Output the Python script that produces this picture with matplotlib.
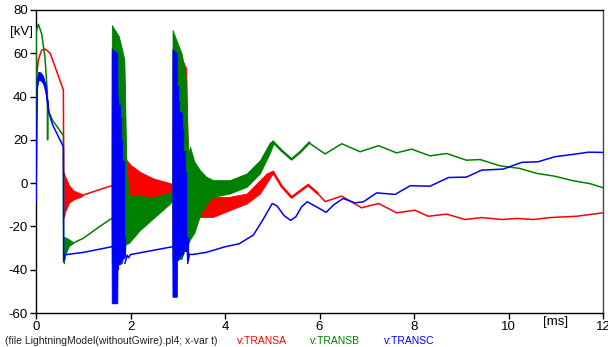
import matplotlib
matplotlib.use("Agg")
import matplotlib.pyplot as plt
import numpy as np

plt.rcParams['font.family'] = ['Liberation Sans', 'DejaVu Sans']

# ---------------- data (time in ms, voltage in kV) ----------------
# TRANSA (red)
a_line1_t = [0, 0.002, 0.02, 0.05, 0.12, 0.19, 0.3, 0.58, 0.585]
a_line1_v = [0, 45, 51, 57, 61.5, 62, 60, 43, 3]
a_band1_t = [0.585, 0.59, 0.62, 0.7, 0.8, 0.95, 1.0]
a_band1_lo = [3, -16, -13, -9, -7.5, -6.3, -5.5]
a_band1_hi = [3, 5, 3, -1, -3.5, -4.8, -5.5]
a_line2_t = [1.0, 1.3, 1.6]
a_line2_v = [-5.5, -3.3, -1.2]
a_band2_t = [1.600, 1.605, 1.75, 1.86, 1.90, 1.92, 2.0, 2.2, 2.48, 2.84, 2.885]
a_band2_lo = [-1.2, -30, -30, -30, -8, -7, -7, -7, -6.3, -5.5, -5]
a_band2_hi = [-1.2, 63, 60, 54, 12, 10.6, 8.5, 5.2, 2.2, 0, -0.5]
a_band3_t = [2.885, 2.89, 3.10, 3.18, 3.20, 3.22, 3.3, 3.47, 3.75, 4.1, 4.46, 4.74, 4.88, 4.98, 5.02]
a_band3_lo = [-5, -30, -30, -30, -36, -22, -18, -15.6, -15.6, -12.5, -9.4, -4.8, 0, 3.5, 4.5]
a_band3_hi = [-0.5, 60.7, 57, 53, 30, 12, 6, -3.2, -6.3, -6.3, -4.8, 1.4, 4.5, 5.5, 5.5]
a_line3_t = [5.02, 5.2, 5.41, 5.6, 5.76, 5.95, 6.12, 6.47, 6.89, 7.25, 7.63, 8.02, 8.3,
             8.69, 9.08, 9.43, 9.86, 10.17, 10.53, 10.88, 11.44, 12]
a_line3_v = [5, -1.5, -6.6, -3.5, -0.9, -4.5, -8.5, -6, -11.4, -9.4, -13.7, -12.5, -15.3,
             -14.3, -16.8, -15.9, -16.8, -16.3, -16.8, -15.9, -15.3, -13.7]

# TRANSB (green)
b_line1_t = [0, 0.004, 0.05, 0.12, 0.19, 0.24, 0.245, 0.25, 0.27, 0.35, 0.45, 0.58, 0.585]
b_line1_v = [0, 70, 73.4, 69, 58, 42, 20, 38, 33, 29, 26, 22, -36.5]
b_band1_t = [0.585, 0.59, 0.62, 0.7, 0.8]
b_band1_lo = [-36.5, -37, -33, -29, -27.5]
b_band1_hi = [-36.5, -25, -25, -26, -27.5]
b_line2_t = [0.8, 1.0, 1.35, 1.6]
b_line2_v = [-27.5, -25.5, -20, -16.3]
b_band2_t = [1.600, 1.605, 1.75, 1.82, 1.87, 1.91, 1.96, 2.2, 2.48, 2.84, 2.885]
b_band2_lo = [-16.3, -37, -37, -37, -30, -28, -27.8, -21.7, -16.3, -9.4, -7]
b_band2_hi = [-16.3, 73, 68, 62, 57, 10, -5.5, -6, -6.5, -4.5, -3]
b_band3_t = [2.885, 2.89, 3.08, 3.16, 3.22, 3.26, 3.35, 3.47, 3.6, 3.75, 4.1, 4.46, 4.74, 4.95, 5.02]
b_band3_lo = [-7, -35, -35, -30, -28, -26, -23, -15, -10, -6.3, -4.8, -1.7, 4.5, 14, 18]
b_band3_hi = [-3, 70.7, 60, 50.7, 13.8, 16.8, 10, 6, 3, 1.4, 1.4, 4.5, 10.6, 18.8, 19.5]
b_line3_t = [5.02, 5.2, 5.41, 5.6, 5.78, 5.95, 6.12, 6.47, 6.86, 7.25, 7.63, 7.95, 8.34,
             8.69, 9.11, 9.4, 9.82, 10.24, 10.6, 10.98, 11.37, 11.72, 12]
b_line3_v = [19, 15, 11, 14.5, 18.6, 16, 13.5, 18.2, 14.5, 17.3, 14, 15.7, 12.6,
             13.7, 10.6, 10.9, 8, 6.8, 4.5, 3.2, 1.1, -0.2, -2.1]

# TRANSC (blue)
c_line1_t = [0, 0.001, 0.03, 0.08, 0.15, 0.2, 0.27, 0.35, 0.58, 0.585, 0.6, 0.65, 1.0, 1.6]
c_line1_v = [0, -8.6, 48, 51, 49, 45, 33, 27, 16.8, -35.6, -33, -33, -32, -29.4]
c_band1_t = [0.02, 0.05, 0.1, 0.15, 0.2, 0.25]
c_band1_lo = [44, 47.5, 47.5, 46, 42, 34]
c_band1_hi = [48, 51.5, 51, 49.5, 45.5, 37]
c_band2_t = [1.600, 1.603, 1.72, 1.725]
c_band2_lo = [-29.4, -55.5, -55.5, -40]
c_band2_hi = [-29.4, 62, 60, 40]
c_strk2_t = [1.74, 1.77, 1.80, 1.83, 1.86, 1.88]
c_strk2_lo = [-40, -38, -37, -36, -35, -34]
c_strk2_hi = [40, 36, 30, 20, 10, -25]
c_line2_t = [1.88, 1.93, 1.96, 2.0, 2.885]
c_line2_v = [-37, -33.3, -34.5, -33, -29.4]
c_band3_t = [2.885, 2.888, 2.98, 2.985]
c_band3_lo = [-29.4, -52.5, -52.5, -36]
c_band3_hi = [-29.4, 62, 60, 45]
c_strk3_t = [3.0, 3.03, 3.06, 3.09, 3.12, 3.15, 3.18, 3.21]
c_strk3_lo = [-36, -35, -34, -33, -33, -32, -32, -36]
c_strk3_hi = [45, 38, 33, 32, 25, 15, 5, -25]
c_line3_t = [3.21, 3.25, 3.3, 3.6, 4.0, 4.3, 4.6, 4.8, 5.0, 5.1, 5.25, 5.39, 5.5, 5.62,
             5.74, 5.9, 6.14, 6.3, 6.5, 6.75, 6.93, 7.21, 7.6, 7.92, 8.34, 8.73, 9.11,
             9.43, 9.89, 10.28, 10.63, 10.98, 11.37, 11.69, 12]
c_line3_v = [-37, -32.8, -33, -32, -29.4, -28, -24, -17, -9.4, -10.5, -15, -17.2, -15.5, -11,
             -8.6, -10.5, -13.5, -10, -7.1, -9.1, -8.6, -4.5, -5.2, -1.2, -1.4, 2.6, 2.8,
             6, 6.5, 9.6, 9.9, 12.2, 13.3, 14.3, 14.2]

x_ticks = [0, 2, 4, 6, 8, 10, 12]
y_ticks = [-60, -40, -20, 0, 20, 40, 60, 80]

RED, GREEN, BLUE = '#ff0000', '#008000', '#0000ff'

fig = plt.figure(figsize=(6.08, 3.47), dpi=100)
ax = fig.add_axes([36 / 608, 1 - 313 / 347, 567 / 608, 303 / 347])


def draw(lines, bands, color, z):
    for i, (t, v) in enumerate(lines):
        lw = 1.8 if i == 2 else 1.1
        ax.plot(t, v, color=color, lw=lw, zorder=z, solid_joinstyle='round')
    for t, lo, hi in bands:
        ax.fill_between(t, lo, hi, color=color, lw=0.6, edgecolor=color, zorder=z)


draw([(a_line1_t, a_line1_v), (a_line2_t, a_line2_v), (a_line3_t[:6], a_line3_v[:6])],
     [(a_band1_t, a_band1_lo, a_band1_hi), (a_band2_t, a_band2_lo, a_band2_hi),
      (a_band3_t, a_band3_lo, a_band3_hi)], RED, 2)
ax.plot(a_line3_t[5:], a_line3_v[5:], color=RED, lw=1.1, zorder=2)
draw([(b_line1_t, b_line1_v), (b_line2_t, b_line2_v), (b_line3_t[:5], b_line3_v[:5])],
     [(b_band1_t, b_band1_lo, b_band1_hi), (b_band2_t, b_band2_lo, b_band2_hi),
      (b_band3_t, b_band3_lo, b_band3_hi)], GREEN, 3)
ax.plot(b_line3_t[4:], b_line3_v[4:], color=GREEN, lw=1.1, zorder=3)
draw([(c_line1_t, c_line1_v), (c_line2_t, c_line2_v)],
     [(c_band1_t, c_band1_lo, c_band1_hi), (c_band2_t, c_band2_lo, c_band2_hi),
      (c_band3_t, c_band3_lo, c_band3_hi)], BLUE, 4)
ax.plot(c_line3_t, c_line3_v, color=BLUE, lw=1.1, zorder=4)
ax.vlines(c_strk2_t, c_strk2_lo, c_strk2_hi, color=BLUE, lw=1.6, zorder=4)
ax.vlines(c_strk3_t, c_strk3_lo, c_strk3_hi, color=BLUE, lw=1.6, zorder=4)

ax.set_xlim(0, 12)
ax.set_ylim(-60, 80)
ax.set_xticks(x_ticks)
ax.set_yticks(y_ticks)
ax.set_xticklabels([str(v) for v in x_ticks])
ax.set_yticklabels([str(v) for v in y_ticks])
ax.tick_params(direction='out', length=4, width=1, labelsize=9.5, pad=2, colors='black')
for s in ax.spines.values():
    s.set_linewidth(1.0)
    s.set_color('black')
ax.spines['right'].set_color('#444444')

fig.text(10 / 608, 1 - 32 / 347, '[kV]', fontsize=9.5, va='center', ha='left')
fig.text(543 / 608, 1 - 322 / 347, '[ms]', fontsize=9.5, va='center', ha='left')

fy = 1 - 341 / 347
fig.text(5 / 608, fy, '(file LightningModel(withoutGwire).pl4; x-var t)', fontsize=7.5,
         va='center', ha='left', color='#222222')
fig.text(237 / 608, fy, 'v:TRANSA', fontsize=7.5, va='center', ha='left', color=RED)
fig.text(310 / 608, fy, 'v:TRANSB', fontsize=7.5, va='center', ha='left', color=GREEN)
fig.text(384 / 608, fy, 'v:TRANSC', fontsize=7.5, va='center', ha='left', color=BLUE)

fig.savefig('out.png', dpi=100)
